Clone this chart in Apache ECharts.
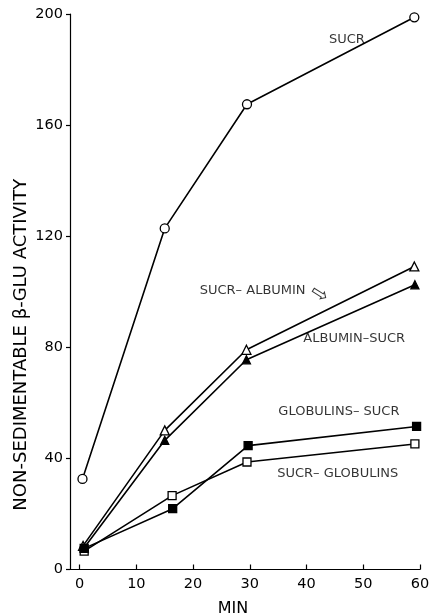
<!DOCTYPE html>
<html>
<head>
<meta charset="utf-8">
<script src="https://cdn.jsdelivr.net/npm/echarts@6/dist/echarts.min.js"></script>
<style>
html,body{margin:0;padding:0;background:#fff;}
#chart{width:430px;height:615px;}
</style>
</head>
<body>
<div id="chart"></div>
<script>
// ---- data ----
const xTicks = [0, 10, 20, 30, 40, 50, 60];
const yTicks = [0, 40, 80, 120, 160, 200];

const sucrX = [0.5, 15.0, 29.5, 59.0];
const sucrY = [32.6, 122.8, 167.5, 198.8];

const sucrAlbX = [0.6, 15.0, 29.4, 59.0];
const sucrAlbY = [8.5, 50.1, 79.1, 109.1];

const albSucrX = [0.8, 15.0, 29.4, 59.1];
const albSucrY = [7.8, 46.5, 75.5, 102.5];

const sucrGlobX = [0.8, 16.3, 29.5, 59.1];
const sucrGlobY = [6.6, 26.6, 38.7, 45.2];

const globSucrX = [0.8, 16.4, 29.7, 59.4];
const globSucrY = [7.6, 21.9, 44.6, 51.5];

// curve annotations (text, x, y in data units)
const noteText = ['SUCR', 'SUCR\u2013 ALBUMIN', 'ALBUMIN\u2013SUCR', 'GLOBULINS\u2013 SUCR', 'SUCR\u2013 GLOBULINS'];
const noteX = [47.1, 30.5, 48.4, 45.7, 45.5];
const noteY = [190.6, 100.4, 83.1, 56.8, 34.5];
const arrowX = [42.2];
const arrowY = [98.9];

const FONT = 'DejaVu Sans';
const pairs = (xs, ys) => xs.map((x, i) => [x, ys[i]]);

function lineSeries(name, xs, ys, symbol, filled, size) {
  return {
    name: name,
    type: 'line',
    data: pairs(xs, ys),
    symbol: symbol,
    symbolSize: size,
    showAllSymbol: true,
    lineStyle: {color: '#000', width: 1.6},
    itemStyle: {color: filled ? '#000' : '#fff', borderColor: '#000', borderWidth: 1.3},
    z: 3,
    animation: false
  };
}

const chart = echarts.init(document.getElementById('chart'), null, {renderer: 'canvas'});
chart.setOption({
  backgroundColor: '#fff',
  animation: false,
  grid: {left: 70, right: 10, top: 14, bottom: 45.5, containLabel: false, outerBoundsMode: 'none'},
  xAxis: {
    type: 'value',
    min: -1.7,
    max: 60,
    name: 'MIN',
    nameLocation: 'middle',
    nameGap: 31,
    nameMoveOverlap: false,
    nameTextStyle: {fontFamily: FONT, fontSize: 16, color: '#000', padding: [0, 24, 0, 0]},
    axisLine: {show: true, onZero: false, lineStyle: {color: '#000', width: 1.2}},
    axisTick: {show: true, inside: true, length: 5, customValues: xTicks, lineStyle: {color: '#000', width: 1.2}},
    axisLabel: {customValues: xTicks, margin: 7, fontFamily: FONT, fontSize: 14.5, color: '#000'},
    splitLine: {show: false}
  },
  yAxis: {
    type: 'value',
    min: 0,
    max: 200,
    interval: 40,
    name: 'NON-SEDIMENTABLE \u03B2-GLU ACTIVITY',
    nameLocation: 'middle',
    nameGap: 40,
    nameMoveOverlap: false,
    nameRotate: 90,
    nameTextStyle: {fontFamily: FONT, fontSize: 18, color: '#000', padding: [0, 106, 0, 0]},
    axisLine: {show: true, onZero: false, lineStyle: {color: '#000', width: 1.2}},
    axisTick: {show: true, inside: false, length: 4, lineStyle: {color: '#000', width: 1.2}},
    axisLabel: {margin: 7, fontFamily: FONT, fontSize: 14.5, color: '#000'},
    splitLine: {show: false}
  },
  series: [
    lineSeries('SUCR', sucrX, sucrY, 'circle', false, 9),
    lineSeries('SUCR-ALBUMIN', sucrAlbX, sucrAlbY, 'triangle', false, 9),
    lineSeries('ALBUMIN-SUCR', albSucrX, albSucrY, 'triangle', true, 8),
    lineSeries('SUCR-GLOBULINS', sucrGlobX, sucrGlobY, 'rect', false, 8),
    lineSeries('GLOBULINS-SUCR', globSucrX, globSucrY, 'rect', true, 8),
    {
      type: 'scatter',
      symbolSize: 0,
      silent: true,
      z: 5,
      data: noteText.map((t, i) => ({name: t, value: [noteX[i], noteY[i]]})),
      label: {show: true, position: 'inside', formatter: p => p.name, fontFamily: FONT, fontSize: 13, color: '#000'}
    },
    {
      type: 'scatter',
      symbolSize: 0,
      silent: true,
      z: 5,
      data: arrowX.map((x, i) => ({value: [x, arrowY[i]]})),
      label: {show: true, position: 'inside', formatter: '\u21E8', rotate: -32, fontFamily: FONT, fontSize: 21, color: '#000'}
    }
  ]
});
</script>
</body>
</html>
